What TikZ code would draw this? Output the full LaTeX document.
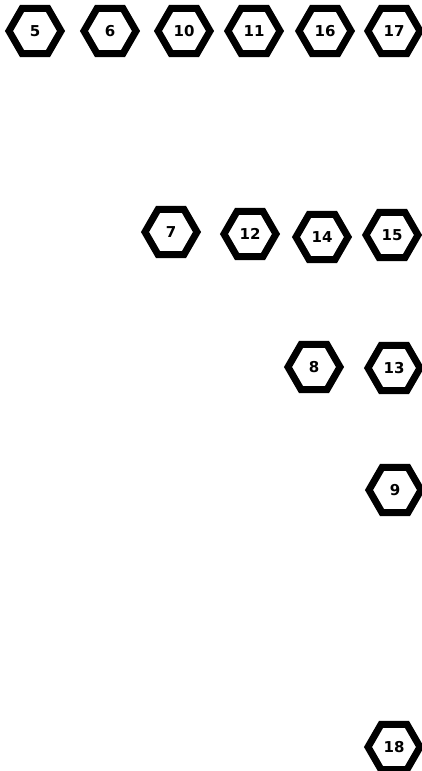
\documentclass[tikz,border=0pt]{standalone}
\usepackage{fontspec}
\setsansfont{DejaVu Sans}
\usetikzlibrary{shapes.geometric}

\begin{document}
\begin{tikzpicture}[x=1pt, y=-1pt,
    hexnode/.style={draw, regular polygon, regular polygon sides=6, line width=7pt,
        minimum size=52pt, inner sep=0pt, font=\sffamily\bfseries\fontsize{15}{15}\selectfont}]
    \useasboundingbox (0,0) rectangle (422,771);

    % Top row
    \node[hexnode] (h5) at (35,31) {5};
    \node[hexnode] (h6) at (110,31) {6};
    \node[hexnode] (h10) at (184,31) {10};
    \node[hexnode] (h11) at (254,31) {11};
    \node[hexnode] (h16) at (325,31) {16};
    \node[hexnode] (h17) at (394,31) {17};

    % Second row
    \node[hexnode] (h7) at (171,232) {7};
    \node[hexnode] (h12) at (250,234) {12};
    \node[hexnode] (h14) at (322,237) {14};
    \node[hexnode] (h15) at (392,235) {15};

    % Third row
    \node[hexnode] (h8) at (314,367) {8};
    \node[hexnode] (h13) at (394,368) {13};

    % Right column
    \node[hexnode] (h9) at (395,490) {9};
    \node[hexnode] (h18) at (394,747) {18};
\end{tikzpicture}
\end{document}
